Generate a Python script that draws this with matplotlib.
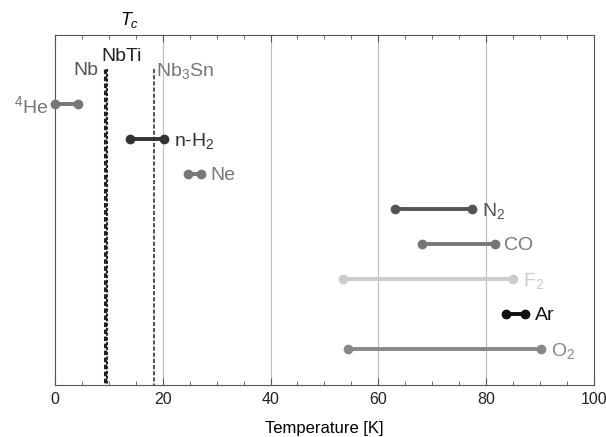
import matplotlib.pyplot as plt

plt.rcParams['font.family'] = ['Liberation Sans', 'DejaVu Sans']
plt.rcParams['mathtext.fontset'] = 'custom'
plt.rcParams['mathtext.rm'] = 'Liberation Sans'
plt.rcParams['mathtext.it'] = 'Liberation Sans:italic'

names = ['$^4$He', 'n-H$_2$', 'Ne', 'N$_2$', 'CO', 'F$_2$', 'Ar', 'O$_2$']
t_melt = [0.0, 14.0, 24.6, 63.1, 68.1, 53.5, 83.8, 54.4]
t_boil = [4.2, 20.3, 27.1, 77.4, 81.6, 85.0, 87.3, 90.2]
colors = ['#777777', '#333333', '#777777', '#555555', '#777777', '#cccccc', '#111111', '#888888']

sc_names = ['Nb', 'NbTi', 'Nb$_3$Sn']
sc_tc = [9.2, 9.6, 18.3]

fig = plt.figure(figsize=(6.06, 4.37), dpi=100)
ax = fig.add_axes([0.0908, 0.119, 0.889, 0.801])

for x in [20, 40, 60, 80]:
    ax.axvline(x, color='#bbbbbb', lw=0.8, zorder=0)

for i, (n, a, b, c) in enumerate(zip(names, t_melt, t_boil, colors)):
    ax.plot([a, b], [i, i], color=c, lw=2.8, marker='o', ms=6, solid_capstyle='butt',
            zorder=3, clip_on=False)
    if i == 0:
        ax.text(a - 1.3, i, n, color=c, fontsize=14, ha='right', va='center_baseline')
    else:
        ax.text(b + 1.8, i, n, color=c, fontsize=14, ha='left', va='center_baseline')

# superconductor Tc lines
ax.plot([sc_tc[0]] * 2, [-1, 8.1], color='#222222', lw=2.2, ls=(0, (1.5, 0.8)), zorder=2)
ax.plot([sc_tc[1]] * 2, [-1, 8.1], color='#222222', lw=1.5, ls=(0, (1.5, 0.8)), zorder=2)
ax.plot([sc_tc[2]] * 2, [-1, 8.1], color='#333333', lw=1.2, ls=(0, (2.5, 1.2)), zorder=2)
ax.text(sc_tc[0] - 1.2, -1, sc_names[0], color='#555555', fontsize=14, ha='right', va='center_baseline')
ax.text(12.4, -1.4, sc_names[1], color='#222222', fontsize=14, ha='center', va='center_baseline')
ax.text(sc_tc[2] + 0.4, -1, sc_names[2], color='#777777', fontsize=14, ha='left', va='center_baseline')
ax.text(13.8, -2.4, '$T_c$', fontsize=13, ha='center', va='center', clip_on=False)

ax.set_xlim(0, 100)
ax.set_ylim(8.03, -1.97)
ax.set_yticks([])
ax.set_xticks([0, 20, 40, 60, 80, 100])
ax.set_xticks(range(0, 101, 5), minor=True)
ax.tick_params(axis='x', which='both', direction='in', top=True, colors='#555555',
               labelcolor='#222222', labelsize=11.5, pad=5)
ax.tick_params(axis='x', which='major', length=5)
ax.tick_params(axis='x', which='minor', length=3)
for s in ax.spines.values():
    s.set_color('#555555')
ax.set_xlabel('Temperature [K]', fontsize=12, labelpad=10)

fig.savefig('out.png', dpi=100)
